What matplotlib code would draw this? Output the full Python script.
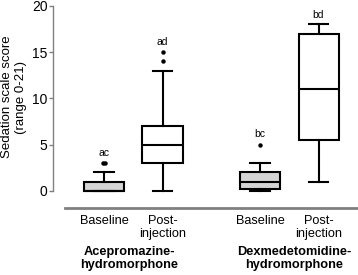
import numpy as np
import matplotlib
matplotlib.use("Agg")
import matplotlib.pyplot as plt

plt.rcParams['font.family'] = ['Liberation Sans', 'DejaVu Sans']

# Données
conditions = ["Baseline", "Post-\ninjection", "Baseline", "Post-\ninjection"]
groups = ["Acepromazine-\nhydromorphone", "Dexmedetomidine-\nhydromorphone"]
whislo = [0, 0, 0, 1]
q1 = [0, 3, 0.2, 5.5]
med = [0, 5, 1, 11]
q3 = [1, 7, 2, 17]
whishi = [2, 13, 3, 18]
fliers = [[3, 3], [14, 15], [5], []]
letters = ["ac", "ad", "bc", "bd"]
letter_y = [4.1, 16.1, 6.2, 19.0]
fills = ["#d4d4d4", "white", "#d4d4d4", "white"]

pos = [1, 2, 3.667, 4.667]
group_x = [1.43, 4.25]

fig = plt.figure(figsize=(3.58, 2.75), dpi=100)
ax = fig.add_axes([53 / 358, 1 - 208 / 275, 305 / 358, (208 - 3.2) / 275])

stats = []
for i in range(4):
    stats.append(dict(whislo=whislo[i], q1=q1[i], med=med[i], q3=q3[i],
                      whishi=whishi[i], fliers=[]))

bp = ax.bxp(stats, positions=pos, widths=0.684, patch_artist=True,
            showfliers=False,
            boxprops=dict(linewidth=1.5, edgecolor="black"),
            whiskerprops=dict(linewidth=1.5, color="black"),
            capprops=dict(linewidth=1.5, color="black"),
            medianprops=dict(linewidth=1.5, color="black"),
            capwidths=0.34)
for patch, c in zip(bp['boxes'], fills):
    patch.set_facecolor(c)

# points aberrants (décalés si valeurs identiques)
for i in range(4):
    vals = fliers[i]
    for v in set(vals):
        n = vals.count(v)
        offs = (np.arange(n) - (n - 1) / 2) * 0.05
        ax.plot(pos[i] + offs, [v] * n, 'o', color="black", markersize=2.2,
                clip_on=False)
    ax.text(pos[i], letter_y[i], letters[i], ha="center", va="center",
            fontsize=7.5)

ax.set_xlim(0.128, 5.342)
ax.set_ylim(-1.84, 20.3)
ax.set_yticks([0, 5, 10, 15, 20])
ax.tick_params(axis="y", length=3, width=1, color="#808080", labelsize=10,
               pad=1)
ax.set_xticks([])
for s in ["top", "right"]:
    ax.spines[s].set_visible(False)
ax.spines["left"].set_bounds(0, 20)
ax.spines["left"].set_color("#808080")
ax.spines["left"].set_linewidth(1)
ax.spines["bottom"].set_bounds(0.333, 5.342)
ax.spines["bottom"].set_color("#808080")
ax.spines["bottom"].set_linewidth(2)

for i in range(4):
    ax.text(pos[i], -2.6, conditions[i], ha="center", va="top", fontsize=9.2,
            linespacing=1.15)
for gx, g in zip(group_x, groups):
    ax.text(gx, -5.95, g, ha="center", va="top", fontsize=9.2,
            fontweight="bold", linespacing=1.15)

fig.text(14 / 358, 1 - 97 / 275, "Sedation scale score\n(range 0-21)",
         rotation=90, ha="center", va="center", fontsize=9.5,
         linespacing=1.2)

fig.savefig("out.png", dpi=100)
